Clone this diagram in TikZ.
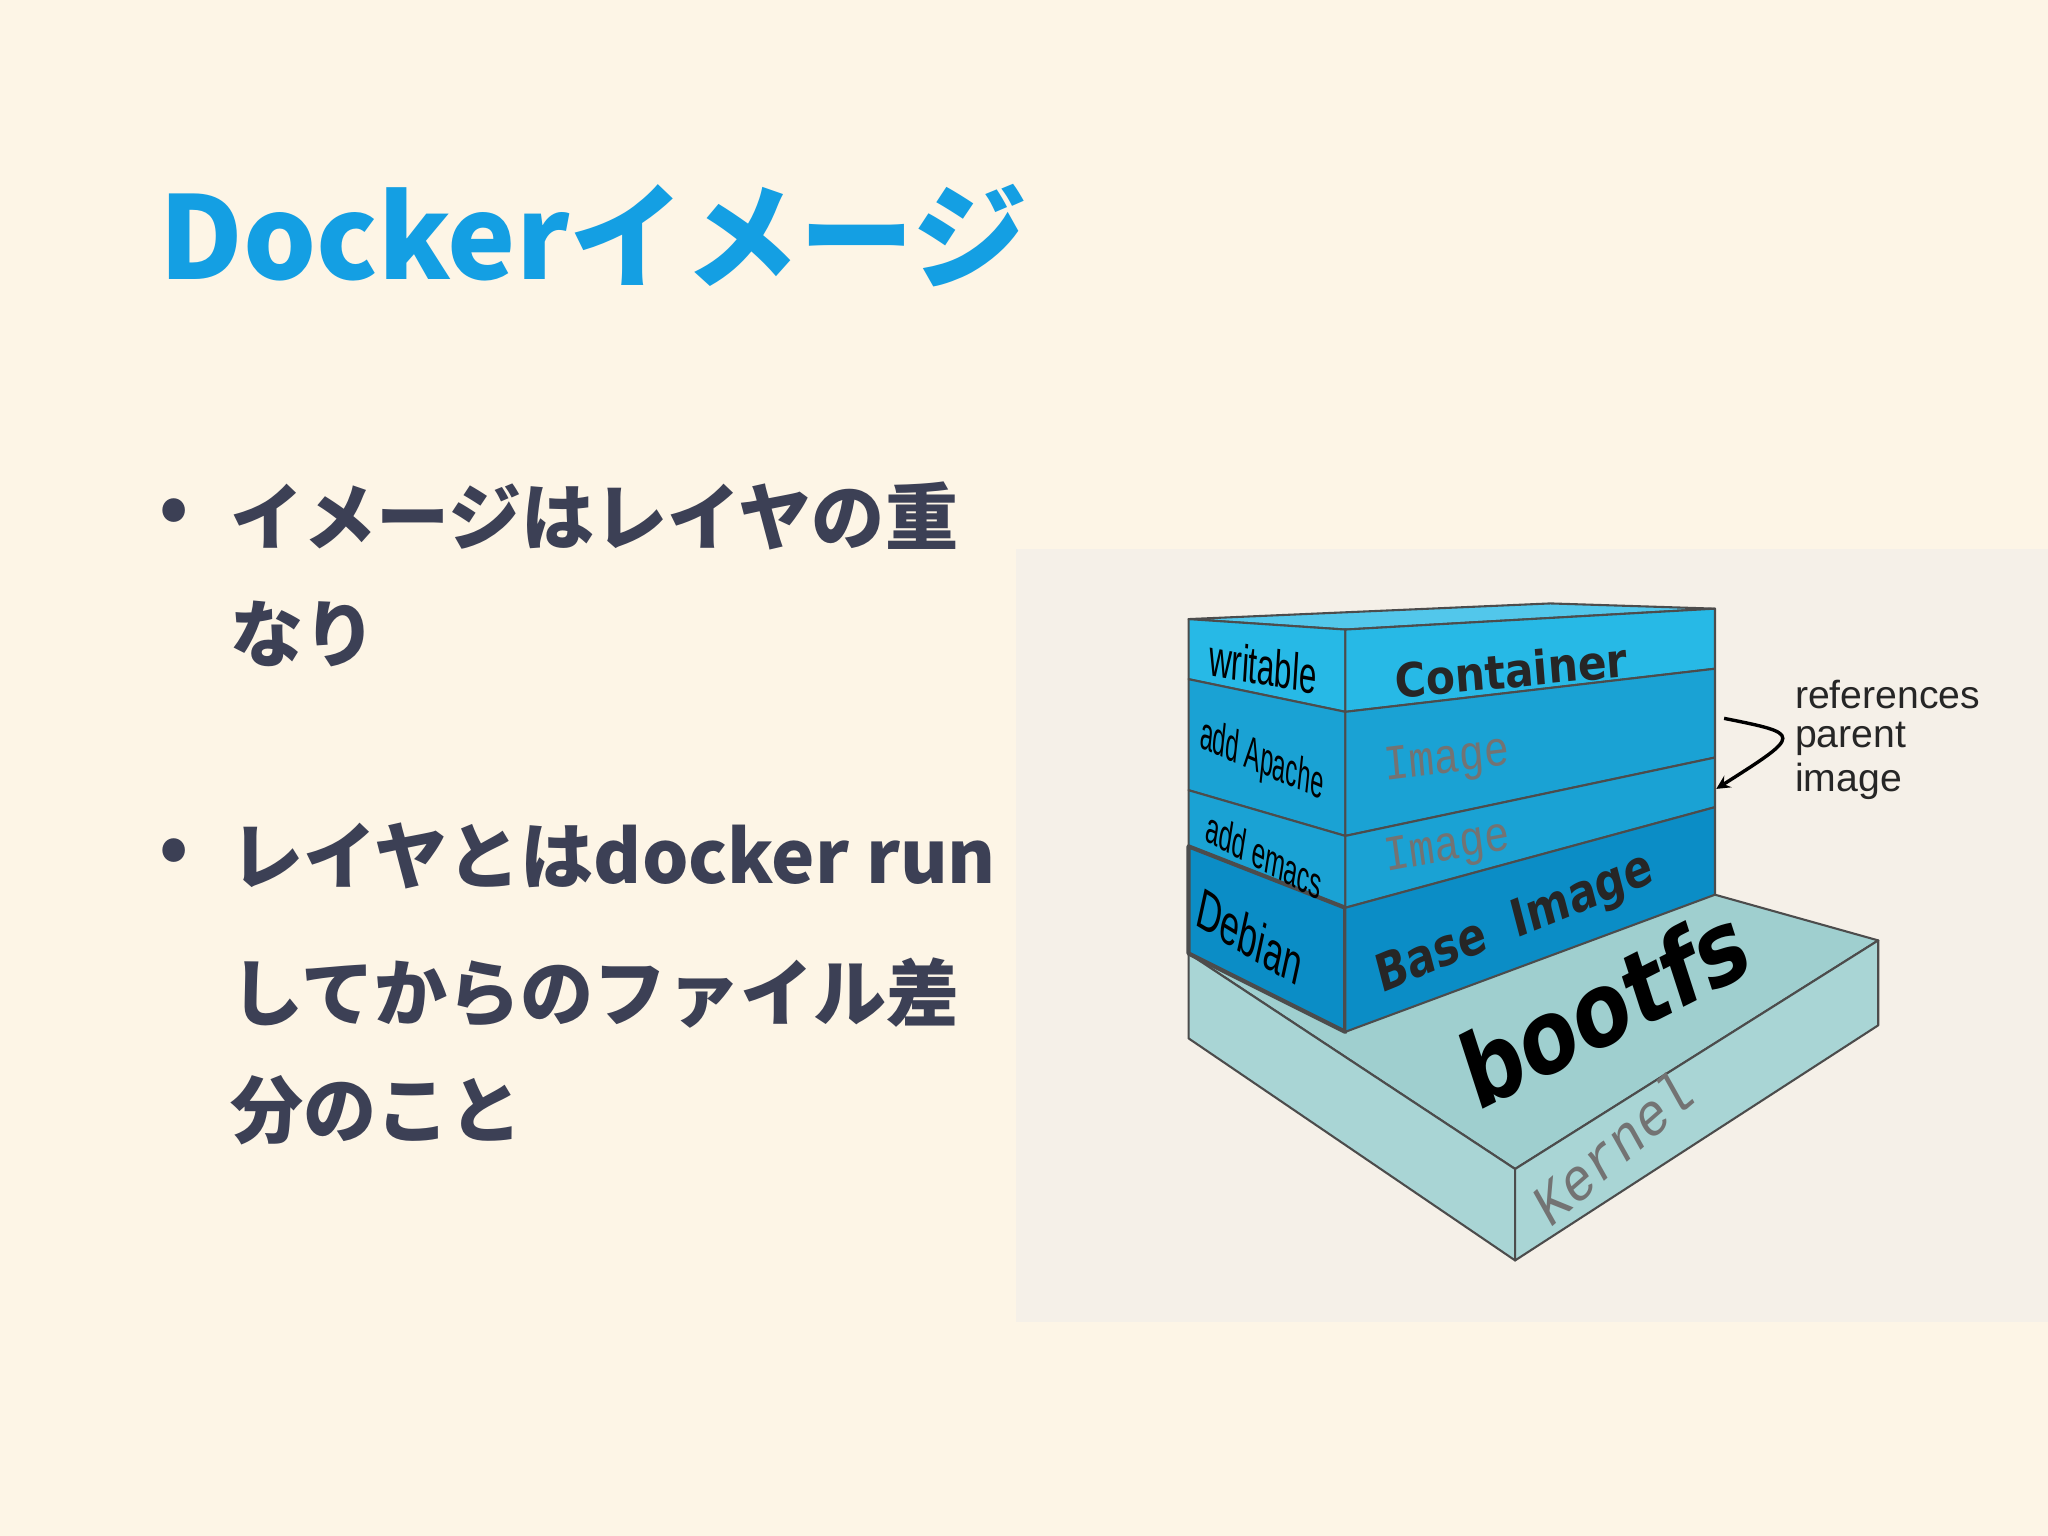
\documentclass[tikz,border=0pt]{standalone}
\usepackage{fontspec}
\setmainfont{Noto Sans CJK JP}
\newfontfamily\cjk{Noto Sans CJK JP}
\newfontfamily\ssans{Liberation Sans}
\newfontfamily\mono{Liberation Mono}
\newfontfamily\dv{DejaVu Sans}
\begin{document}
\begin{tikzpicture}[x=0.5pt,y=0.5pt,
  lay/.style={draw=black!70,line width=0.8pt,line join=round},
  lbl/.style={inner sep=0,font=\ssans},
  bul/.style={anchor=west,inner sep=0,font=\cjk\bfseries\fontsize{28}{30}\selectfont,text=txt}]
\definecolor{bg}{HTML}{FDF5E6}
\definecolor{panel}{HTML}{F5F0E8}
\definecolor{ttl}{HTML}{149FE3}
\definecolor{txt}{HTML}{3C4055}
\definecolor{slab}{HTML}{A9D5D5}
\definecolor{slabtop}{HTML}{9FCFCF}
\definecolor{cont}{HTML}{27B9E6}
\definecolor{img}{HTML}{1AA2D4}
\definecolor{base}{HTML}{0B8DC6}
\useasboundingbox (0,0) rectangle (1568,-1176);
\fill[bg] (0,0) rectangle (1568,-1176);
\node[anchor=west,inner sep=0,text=ttl,font=\cjk\bfseries\fontsize{44}{50}\selectfont] (title) at (122,-180) {Dockerイメージ};
\node[bul] (b1) at (122,-395) {•};
\node[bul] (t1) at (176,-395) {イメージはレイヤの重};
\node[bul] (t2) at (176,-485) {なり};
\node[bul] (b2) at (122,-655) {•};
\node[bul] (t3) at (176,-655) {レイヤとはdocker run};
\node[bul] (t4) at (176,-760) {してからのファイル差};
\node[bul] (t5) at (176,-850) {分のこと};
\fill[panel] (778,-420) rectangle (1568,-1012);
% slab
\fill[slabtop,lay] (910,-730) -- (1160,-895) -- (1438,-720) -- (1313,-685) -- cycle;
\fill[slab,lay] (910,-730) -- (1160,-895) -- (1160,-965) -- (910,-795) -- cycle;
\fill[slab,lay] (1160,-895) -- (1438,-720) -- (1438,-785) -- (1160,-965) -- cycle;
% stack top
\fill[cont!80!white,lay] (910,-474) -- (1187,-462) -- (1313,-466) -- (1030,-482) -- cycle;
% left face layers
\fill[cont,lay] (910,-474) -- (1030,-482) -- (1030,-545) -- (910,-520) -- cycle;
\fill[img,lay] (910,-520) -- (1030,-545) -- (1030,-640) -- (910,-605) -- cycle;
\fill[img,lay] (910,-605) -- (1030,-640) -- (1030,-695) -- (910,-648) -- cycle;
\fill[base,lay,line width=1.6pt] (910,-648) -- (1030,-695) -- (1030,-790) -- (910,-730) -- cycle;
% right face layers
\fill[cont,lay] (1030,-482) -- (1313,-466) -- (1313,-512) -- (1030,-545) -- cycle;
\fill[img,lay] (1030,-545) -- (1313,-512) -- (1313,-580) -- (1030,-640) -- cycle;
\fill[img,lay] (1030,-640) -- (1313,-580) -- (1313,-618) -- (1030,-695) -- cycle;
\fill[base,lay] (1030,-695) -- (1313,-618) -- (1313,-685) -- (1030,-790) -- cycle;
% labels
\node[lbl,font=\ssans\fontsize{20}{20}\selectfont,xscale=0.6,rotate=-6] (l1) at (967,-510) {writable};
\node[lbl,font=\ssans\fontsize{18}{18}\selectfont,xscale=0.5,rotate=-12] (l2) at (966,-583) {add Apache};
\node[lbl,font=\ssans\fontsize{17}{17}\selectfont,xscale=0.55,rotate=-16] (l3) at (968,-655) {add emacs};
\node[lbl,font=\ssans\fontsize{22}{22}\selectfont,xscale=0.6,rotate=-20] (l4) at (957,-717) {Debian};
\node[lbl,font=\dv\bfseries\fontsize{18}{18}\selectfont,text=black!85,xscale=0.9,rotate=5] (r1) at (1157,-513) {Container};
\node[lbl,font=\mono\fontsize{19}{19}\selectfont,text=black!55,xscale=0.85,rotate=6] (r2) at (1108,-583) {Image};
\node[lbl,font=\mono\fontsize{19}{19}\selectfont,text=black!55,xscale=0.85,rotate=9] (r3) at (1108,-650) {Image};
\node[lbl,font=\dv\bfseries\fontsize{20}{20}\selectfont,text=black!85,xscale=0.8,rotate=18] (r4) at (1160,-708) {Base\ \ Image};
\node[lbl,font=\dv\bfseries\fontsize{40}{40}\selectfont,text=black,xscale=0.8,rotate=22] (bf) at (1228,-770) {bootfs};
\node[lbl,font=\mono\fontsize{24}{24}\selectfont,text=black!55,xscale=0.8,rotate=35] (kn) at (1235,-878) {Kernel};
% references
\node[lbl,anchor=west,font=\ssans\fontsize{15}{15}\selectfont,text=black!85] (ref1) at (1374,-532) {references};
\node[lbl,anchor=west,font=\ssans\fontsize{15}{15}\selectfont,text=black!85] (ref2) at (1374,-566) {parent};
\node[lbl,anchor=west,font=\ssans\fontsize{15}{15}\selectfont,text=black!85] (ref3) at (1374,-598) {image};
\coordinate (as) at (1320,-550);
\coordinate (ae) at (1314,-604);
\draw[line width=1.3pt,-stealth] (as) .. controls (1380,-562) .. (ae);
\end{tikzpicture}
\end{document}
